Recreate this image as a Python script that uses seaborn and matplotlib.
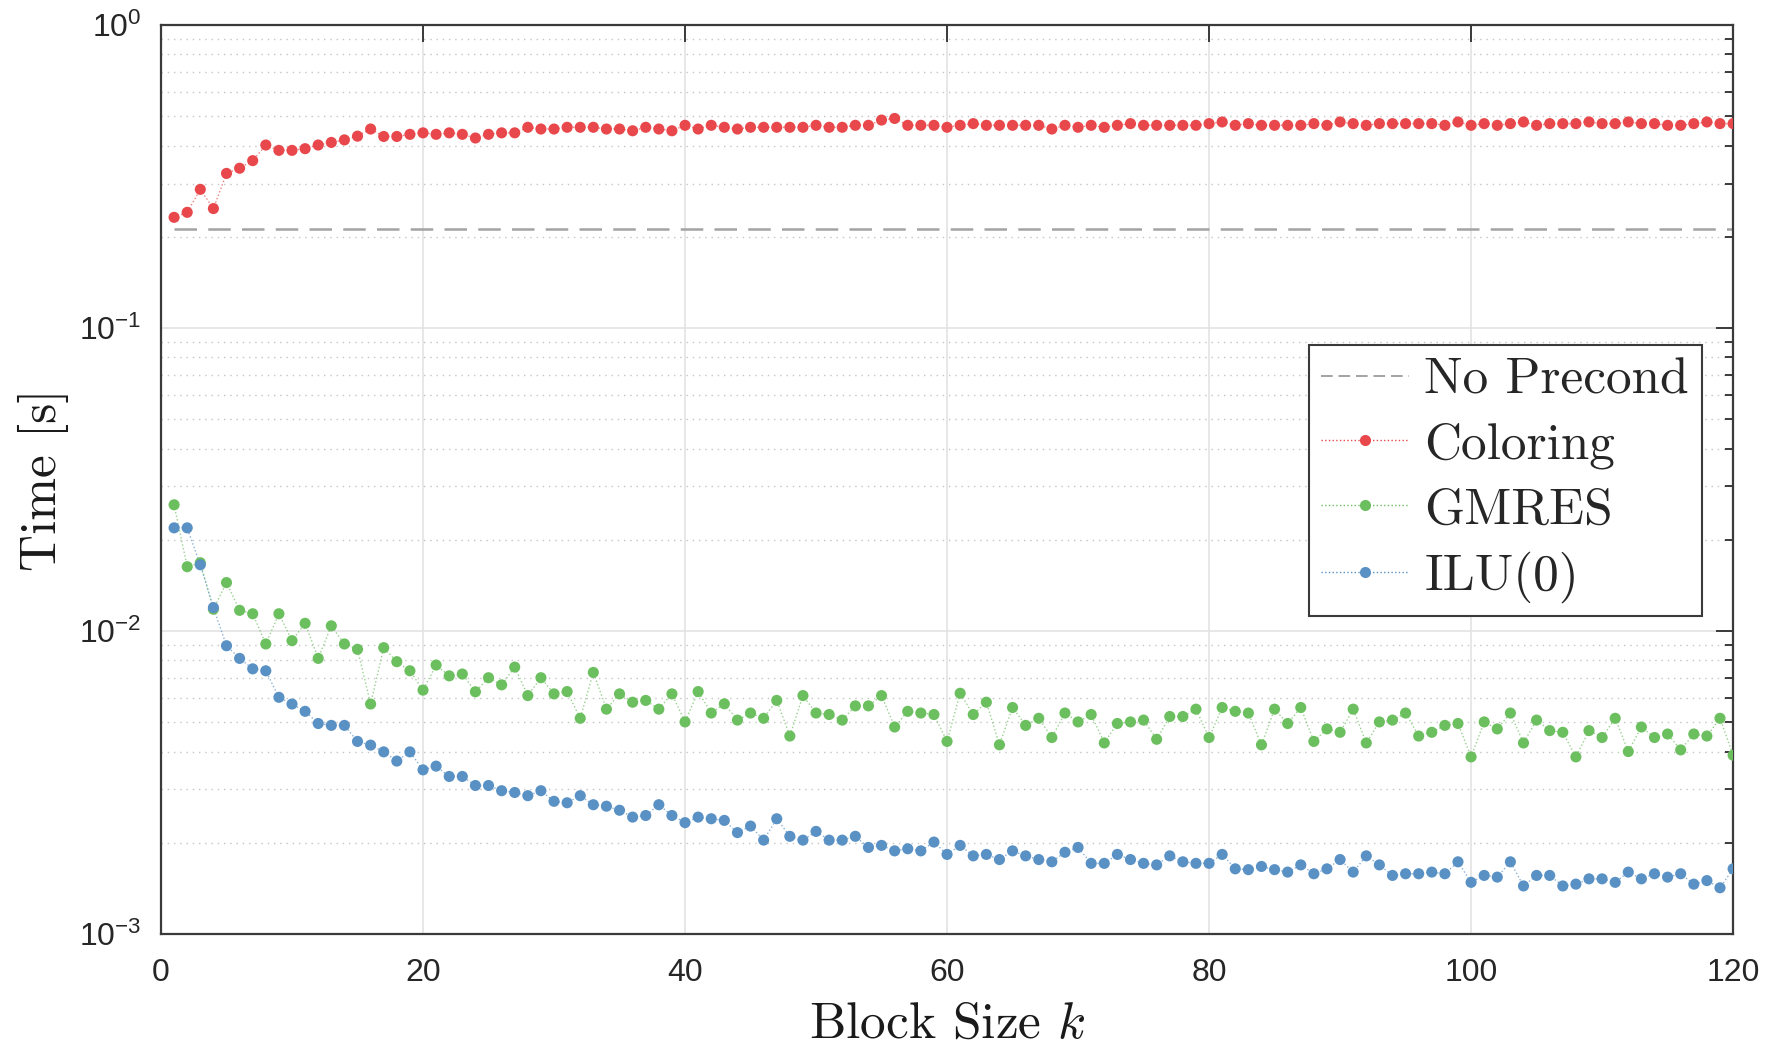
import numpy as np
import pandas as pd
import matplotlib
matplotlib.use("Agg")
import matplotlib.pyplot as plt
from matplotlib.lines import Line2D
from matplotlib.ticker import LogLocator, NullFormatter, FixedLocator
import seaborn as sns

# Block sizes
block_size = list(range(1, 121))

# Solve time without preconditioner [s]
no_precond_time = 0.213

# Solve times [s] per block size
coloring_time = [
    0.232, 0.241, 0.287, 0.248, 0.324, 0.337, 0.357, 0.402, 0.386, 0.386,
    0.391, 0.402, 0.410, 0.418, 0.430, 0.454, 0.429, 0.429, 0.436, 0.441,
    0.436, 0.441, 0.436, 0.424, 0.436, 0.441, 0.441, 0.460, 0.454, 0.454,
    0.460, 0.460, 0.460, 0.454, 0.454, 0.448, 0.460, 0.454, 0.448, 0.467,
    0.454, 0.467, 0.460, 0.454, 0.460, 0.460, 0.460, 0.460, 0.460, 0.467,
    0.460, 0.460, 0.467, 0.467, 0.486, 0.492, 0.467, 0.467, 0.467, 0.460,
    0.467, 0.473, 0.467, 0.467, 0.467, 0.467, 0.467, 0.454, 0.467, 0.460,
    0.467, 0.460, 0.467, 0.473, 0.467, 0.467, 0.467, 0.467, 0.467, 0.473,
    0.479, 0.467, 0.473, 0.467, 0.467, 0.467, 0.467, 0.473, 0.467, 0.479,
    0.473, 0.467, 0.473, 0.473, 0.473, 0.473, 0.473, 0.467, 0.479, 0.467,
    0.473, 0.467, 0.473, 0.479, 0.467, 0.473, 0.473, 0.473, 0.479, 0.473,
    0.473, 0.479, 0.473, 0.473, 0.467, 0.467, 0.473, 0.479, 0.473, 0.473,
]

gmres_time = [
    0.0261, 0.0163, 0.0168, 0.0118, 0.01445, 0.0117, 0.0114, 0.00906, 0.0114, 0.00929,
    0.0106, 0.00812, 0.0104, 0.00906, 0.00870, 0.00574, 0.00881, 0.00792, 0.00739, 0.00638,
    0.00772, 0.00711, 0.00721, 0.00630, 0.00701, 0.00664, 0.00760, 0.00612, 0.00701, 0.00620,
    0.00631, 0.00515, 0.00730, 0.00552, 0.00620, 0.00582, 0.00590, 0.00552, 0.00620, 0.00501,
    0.00631, 0.00536, 0.00575, 0.00508, 0.00536, 0.00515, 0.00590, 0.00450, 0.00612, 0.00536,
    0.00530, 0.00508, 0.00566, 0.00566, 0.00612, 0.00482, 0.00543, 0.00536, 0.00530, 0.00432,
    0.00623, 0.00530, 0.00582, 0.00421, 0.00559, 0.00488, 0.00515, 0.00445, 0.00536, 0.00501,
    0.00530, 0.00427, 0.00495, 0.00501, 0.00508, 0.00439, 0.00522, 0.00522, 0.00552, 0.00445,
    0.00559, 0.00543, 0.00536, 0.00421, 0.00552, 0.00495, 0.00559, 0.00432, 0.00475, 0.00463,
    0.00552, 0.00427, 0.00501, 0.00508, 0.00536, 0.00450, 0.00463, 0.00488, 0.00495, 0.00384,
    0.00501, 0.00475, 0.00536, 0.00427, 0.00508, 0.00469, 0.00463, 0.00384, 0.00469, 0.00445,
    0.00515, 0.00400, 0.00482, 0.00445, 0.00457, 0.00405, 0.00457, 0.00450, 0.00515, 0.00389,
]

ilu0_time = [
    0.0219, 0.0219, 0.01654, 0.01195, 0.00894, 0.00812, 0.00750, 0.00739, 0.00604, 0.00574,
    0.00543, 0.00495, 0.00488, 0.00488, 0.00432, 0.00420, 0.00399, 0.00372, 0.00399, 0.00348,
    0.00358, 0.00331, 0.00331, 0.00309, 0.00309, 0.00297, 0.00293, 0.00286, 0.00297, 0.00274,
    0.00271, 0.00286, 0.00267, 0.00264, 0.00256, 0.00243, 0.00246, 0.00267, 0.00246, 0.00233,
    0.00243, 0.00240, 0.00237, 0.00216, 0.00227, 0.00204, 0.00240, 0.00210, 0.00204, 0.00218,
    0.00204, 0.00204, 0.00210, 0.00193, 0.00196, 0.00188, 0.00191, 0.00188, 0.00201, 0.00183,
    0.00196, 0.00181, 0.00183, 0.00176, 0.00188, 0.00181, 0.00176, 0.00173, 0.00186, 0.00193,
    0.00171, 0.00171, 0.00183, 0.00176, 0.00171, 0.00169, 0.00181, 0.00173, 0.00171, 0.00171,
    0.00183, 0.00164, 0.00163, 0.00167, 0.00163, 0.00160, 0.00169, 0.00158, 0.00164, 0.00176,
    0.00160, 0.00181, 0.00169, 0.00156, 0.00158, 0.00158, 0.00160, 0.00158, 0.00173, 0.00148,
    0.00156, 0.00154, 0.00173, 0.00144, 0.00156, 0.00156, 0.00144, 0.00146, 0.00152, 0.00152,
    0.00148, 0.00160, 0.00152, 0.00158, 0.00154, 0.00158, 0.00146, 0.00150, 0.00142, 0.00164,
]

series_names = ["Coloring", "GMRES", "ILU(0)"]
series_colors = {"Coloring": "#e8484b", "GMRES": "#6bbf5e", "ILU(0)": "#5991c5"}
baseline_color = "#a3a3a3"

df = pd.DataFrame({
    "k": block_size * 3,
    "time": coloring_time + gmres_time + ilu0_time,
    "method": (["Coloring"] * len(block_size) + ["GMRES"] * len(block_size)
               + ["ILU(0)"] * len(block_size)),
})
baseline = pd.DataFrame({"k": [block_size[0], block_size[-1]],
                         "time": [no_precond_time, no_precond_time]})

sns.set_theme(style="white")
plt.rcParams["font.family"] = ["Liberation Sans", "DejaVu Sans"]
plt.rcParams["mathtext.fontset"] = "custom"
plt.rcParams["mathtext.rm"] = "Liberation Sans"
plt.rcParams["mathtext.it"] = "Liberation Sans:italic"

fig = plt.figure(figsize=(17.79, 10.47), dpi=100)
ax = fig.add_axes([0.0905, 0.108, 0.8837, 0.868])

# baseline without preconditioning
sns.lineplot(data=baseline, x="k", y="time", ax=ax, color=baseline_color,
             linewidth=1.8, linestyle=(0, (9, 4.5)), legend=False, zorder=2)

# thin dotted connectors, then markers on top
for name in series_names:
    sub = df[df["method"] == name]
    sns.lineplot(data=sub, x="k", y="time", ax=ax, color=series_colors[name],
                 linewidth=1.0, linestyle=":", alpha=0.7, legend=False, zorder=3)
sns.scatterplot(data=df, x="k", y="time", hue="method", palette=series_colors,
                ax=ax, s=64, linewidth=0, legend=False, zorder=4)

ax.set_yscale("log")
ax.set_xlim(0, 120)
ax.set_ylim(1e-3, 1)
ax.set_xticks(range(0, 121, 20))
ax.yaxis.set_major_locator(FixedLocator([1e-3, 1e-2, 1e-1, 1]))
ax.yaxis.set_minor_locator(LogLocator(base=10, subs=np.arange(2, 10)))
ax.yaxis.set_minor_formatter(NullFormatter())

ax.grid(True, which="major", color="#e3e3e3", linewidth=1.2, linestyle="-")
ax.grid(True, which="minor", axis="y", color="#c4c4c4", linewidth=1.0,
        linestyle=(0, (1, 3.5)))
ax.set_axisbelow(True)

for side in ["left", "right", "top", "bottom"]:
    ax.spines[side].set_color("#3a3a3a")
    ax.spines[side].set_linewidth(1.6)
ax.tick_params(which="both", direction="in", top=True, right=True,
               color="#3a3a3a", width=1.4, labelsize=23, labelcolor="#262626")
ax.tick_params(which="major", length=12)
ax.tick_params(which="minor", length=6)
ax.tick_params(axis="x", which="major", pad=17)
ax.tick_params(axis="y", which="major", pad=14)

label_font = dict(fontfamily="cmr10", fontsize=37, color="#1a1a1a", math_fontfamily="cm")
ax.set_xlabel("Block Size $k$", labelpad=10, **label_font)
ax.set_ylabel("Time [s]", labelpad=7, **label_font)

handles = [Line2D([], [], color=baseline_color, linewidth=1.4, linestyle=(0, (6, 3)))]
labels = ["No Precond"]
for name in series_names:
    handles.append(Line2D([], [], color=series_colors[name], linewidth=1.0,
                          linestyle=":", marker="o", markersize=8,
                          markeredgewidth=0))
    labels.append(name)
leg = ax.legend(handles, labels, loc="upper right", bbox_to_anchor=(0.98, 0.648),
                borderaxespad=0, frameon=True, fancybox=False, framealpha=1,
                handlelength=1.7, handletextpad=0.3, labelspacing=0.36,
                borderpad=0.25, prop={"family": "cmr10", "size": 37})
leg.get_frame().set_edgecolor("#3a3a3a")
leg.get_frame().set_linewidth(1.5)

fig.savefig("out.png", dpi=100, facecolor="white")
